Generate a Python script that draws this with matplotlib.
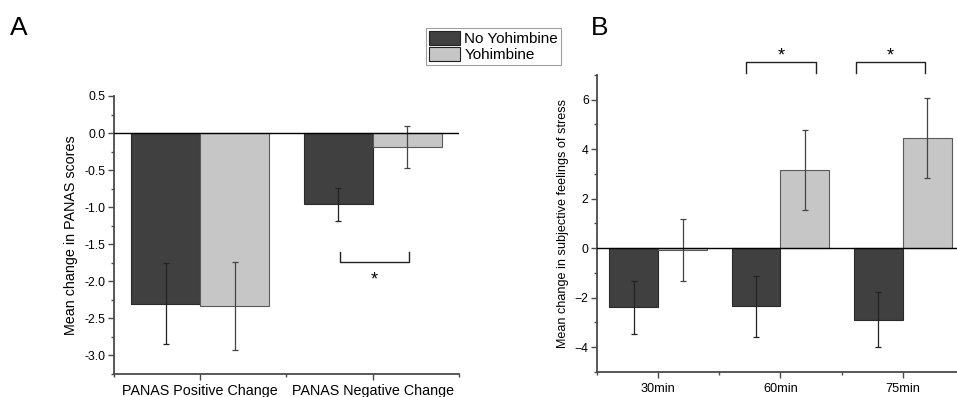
import numpy as np
import matplotlib.pyplot as plt
from matplotlib.ticker import MultipleLocator

plt.rcParams["font.family"] = ["Liberation Sans", "DejaVu Sans"]

# ---------------------------------------------------------------------------
# Data
# ---------------------------------------------------------------------------
panas_labels = ["PANAS Positive Change", "PANAS Negative Change"]
panas_no_yoh = [-2.30, -0.96]
panas_no_yoh_err = [0.55, 0.22]
panas_yoh = [-2.33, -0.19]
panas_yoh_err = [0.59, 0.28]

stress_labels = ["30min", "60min", "75min"]
stress_no_yoh = [-2.38, -2.35, -2.88]
stress_no_yoh_err = [1.07, 1.22, 1.10]
stress_yoh = [-0.08, 3.15, 4.45]
stress_yoh_err = [1.25, 1.62, 1.63]

DARK = "#404040"
LIGHT = "#c6c6c6"
AXC = "#4a4a4a"
W = 0.4


def style_axis(ax):
    for s in ["top", "right"]:
        ax.spines[s].set_visible(False)
    for s in ["left", "bottom"]:
        ax.spines[s].set_color(AXC)
        ax.spines[s].set_linewidth(1.3)
    ax.tick_params(which="major", direction="out", length=4, width=1,
                   color=AXC, labelsize=8.8, pad=2)
    ax.tick_params(which="minor", direction="out", length=2.5, width=1,
                   color=AXC)


def draw_bars(ax, x, a, aerr, b, berr):
    ax.bar(x - W / 2, a, W, color=DARK, edgecolor="#2a2a2a", linewidth=0.8,
           yerr=aerr, error_kw=dict(ecolor="#222222", elinewidth=0.9,
                                     capsize=2.5, capthick=0.9),
           label="No Yohimbine", zorder=2)
    ax.bar(x + W / 2, b, W, color=LIGHT, edgecolor="#5a5a5a", linewidth=0.8,
           yerr=berr, error_kw=dict(ecolor="#444444", elinewidth=0.9,
                                     capsize=2.5, capthick=0.9),
           label="Yohimbine", zorder=2)
    ax.axhline(0, color="black", linewidth=1.0, zorder=3)


def bracket(ax, x0, x1, y_tip, y_bar, y_star):
    ax.plot([x0, x0, x1, x1], [y_tip, y_bar, y_bar, y_tip], color="#222222",
            linewidth=1.0, clip_on=False)
    ax.text((x0 + x1) / 2, y_star, "*", ha="center", va="center",
            fontsize=13, clip_on=False)


fig = plt.figure(figsize=(9.57, 3.97), dpi=100)

# ---------------------------------------------------------------------------
# Panel A
# ---------------------------------------------------------------------------
axA = fig.add_axes([0.1191, 0.0579, 0.3605, 0.7003])
xa = np.arange(1, len(panas_labels) + 1)
draw_bars(axA, xa, panas_no_yoh, panas_no_yoh_err, panas_yoh, panas_yoh_err)
axA.set_xlim(0.5, 2.5)
axA.set_ylim(-3.25, 0.5)
axA.set_xticks(xa)
axA.set_xticklabels(panas_labels)
axA.xaxis.set_minor_locator(MultipleLocator(0.5))
axA.set_yticks([0.5, 0.0, -0.5, -1.0, -1.5, -2.0, -2.5, -3.0])
axA.set_yticklabels(["0.5", "0.0", "-0.5", "-1.0", "-1.5", "-2.0", "-2.5",
                     "-3.0"])
axA.yaxis.set_minor_locator(MultipleLocator(0.25))
axA.set_ylabel("Mean change in PANAS scores", fontsize=10.3, labelpad=5)
style_axis(axA)
axA.tick_params(axis="x", which="major", labelsize=10.3, pad=3)
bracket(axA, 1.81, 2.21, -1.61, -1.74, -1.98)

# ---------------------------------------------------------------------------
# Panel B
# ---------------------------------------------------------------------------
axB = fig.add_axes([0.6238, 0.0630, 0.3835, 0.7481])
xb = np.arange(1, len(stress_labels) + 1)
draw_bars(axB, xb, stress_no_yoh, stress_no_yoh_err, stress_yoh,
          stress_yoh_err)
axB.set_xlim(0.5, 3.5)
axB.set_ylim(-5, 7)
axB.set_xticks(xb)
axB.set_xticklabels(stress_labels)
axB.xaxis.set_minor_locator(MultipleLocator(0.5))
axB.set_yticks([-4, -2, 0, 2, 4, 6])
axB.yaxis.set_minor_locator(MultipleLocator(1))
axB.set_ylabel("Mean change in subjective feelings of stress", fontsize=9.1,
               labelpad=4)
style_axis(axB)
axB.tick_params(axis="x", which="major", labelsize=9.2, pad=4)
bracket(axB, 1.72, 2.29, 7.08, 7.53, 7.78)
bracket(axB, 2.62, 3.18, 7.08, 7.53, 7.78)

# ---------------------------------------------------------------------------
# Legend and panel letters
# ---------------------------------------------------------------------------
handles, labels = axA.get_legend_handles_labels()
leg = fig.legend(handles, labels, loc="upper left",
                 bbox_to_anchor=(426 / 957, 1 - 28 / 397), fontsize=11,
                 frameon=True, fancybox=False, borderpad=0.2,
                 handlelength=2.0, handleheight=1.0, handletextpad=0.3,
                 labelspacing=0.05, borderaxespad=0)
leg.get_frame().set_edgecolor("#888888")
leg.get_frame().set_linewidth(0.8)
for p in leg.get_patches():
    p.set_edgecolor("#222222")

fig.text(10 / 957, 1 - 35 / 397, "A", fontsize=19)
fig.text(591 / 957, 1 - 35 / 397, "B", fontsize=19)

fig.savefig("out.png", dpi=100)
